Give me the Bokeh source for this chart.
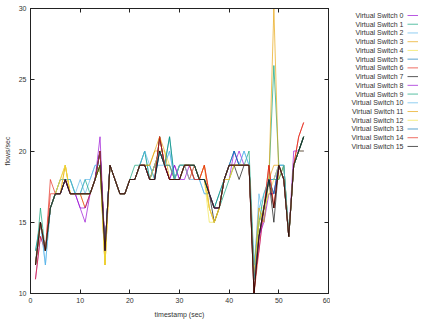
from bokeh.plotting import figure
from bokeh.layouts import row
from bokeh.models import ColumnDataSource, Range1d, LinearAxis, FixedTicker, CustomJSTickFormatter
from bokeh.core.properties import value
from bokeh.embed import file_html
from bokeh.resources import INLINE

timestamps = list(range(1, 56))

series_names = [f"Virtual Switch {i}" for i in range(16)]

series_colors = ["#9400d3", "#009e73", "#56b4e9", "#e69f00", "#f0e442", "#0072b2", "#e51e10", "#000000",
                 "#9400d3", "#009e73", "#56b4e9", "#e69f00", "#f0e442", "#0072b2", "#e51e10", "#000000"]

s0 = [11,14,13,16,17,17,18,17,17,16, 15,17,18,20,13,19,18,17,17,18, 18,19,19,18,19,20,19,18,19,18, 19,18,19,18,18,17,16,16,18,18, 20,19,19,19,11,13,16,18,18,19, 18,14,19,20,20]
s1 = [12,16,13,16,17,18,18,17,17,17, 17,17,18,19,13,19,18,17,17,18, 19,19,19,19,18,20,19,19,18,19, 19,19,18,18,18,17,16,16,17,18, 19,19,19,19,11,15,16,18,26,19, 19,14,19,20,21]
s2 = [13,15,12,16,17,18,18,18,17,18, 17,18,19,19,13,19,18,17,17,18, 18,19,20,18,19,19,19,20,18,19, 19,19,18,18,17,17,16,16,18,19, 19,19,20,19,11,17,15,18,18,19, 19,14,19,20,20]
s3 = [12,15,13,16,17,18,19,17,17,17, 17,17,18,19,12,19,18,17,17,18, 18,19,19,19,20,20,19,18,18,19, 19,18,19,18,18,16,15,16,18,18, 19,19,19,19,11,15,16,18,30,18, 19,14,19,20,21]
s4 = [12,15,13,16,17,17,19,17,17,17, 16,17,18,19,12,19,18,17,17,18, 18,19,19,18,19,20,20,19,18,18, 19,19,19,18,18,15,15,16,18,19, 19,19,19,19,11,16,16,17,17,19, 18,14,19,20,20]
s5 = [12,15,13,16,17,17,18,17,17,17, 17,17,18,20,13,19,18,17,17,18, 18,19,19,18,18,21,19,21,18,18, 19,19,19,18,18,17,16,17,18,19, 20,19,19,19,11,14,16,18,17,19, 18,14,19,20,21]
s6 = [11,14,13,18,17,17,18,17,17,17, 16,17,18,20,13,19,18,17,17,18, 18,19,19,18,18,21,19,18,18,18, 19,19,18,18,19,17,16,16,18,19, 19,19,19,19,10,13,16,19,16,19, 18,14,19,21,22]
s7 = [12,15,13,16,17,17,18,17,17,17, 17,17,18,20,13,19,18,17,17,18, 18,19,19,18,18,21,19,18,18,18, 19,19,19,18,18,17,15,16,18,19, 19,18,19,19,10,14,16,18,15,19, 18,14,19,20,21]
s8 = [12,15,13,16,17,17,18,17,17,16, 16,17,18,21,13,19,18,17,17,18, 18,19,19,18,19,20,19,18,19,18, 18,19,19,18,18,17,16,16,18,19, 19,20,19,19,11,14,15,17,17,19, 18,14,20,20,20]
s9 = [13,15,13,16,17,17,18,18,17,17, 18,17,18,19,13,19,18,17,17,18, 18,19,20,18,19,20,19,21,18,19, 19,19,19,18,18,17,16,17,18,19, 19,19,19,20,12,15,17,18,18,18, 19,14,19,20,21]
s10 = [12,15,12,16,17,17,18,18,17,17, 18,18,19,19,13,19,18,17,17,18, 18,19,20,19,18,20,19,20,18,19, 19,18,18,18,17,17,16,16,18,19, 19,19,20,19,12,16,17,18,18,19, 19,14,19,20,20]
s11 = [12,15,13,16,17,17,19,17,17,17, 17,17,18,19,12,19,18,17,17,18, 18,19,19,19,20,21,20,18,18,18, 19,19,19,18,19,16,15,16,18,19, 19,19,19,19,11,16,15,18,19,19, 18,14,19,20,21]
s12 = [12,15,13,16,17,18,19,17,17,17, 17,17,18,19,12,19,18,17,17,18, 18,19,19,18,19,20,19,19,18,18, 19,19,19,18,18,16,15,16,18,18, 19,19,19,19,11,15,16,17,18,19, 18,14,19,20,20]
s13 = [12,15,13,16,17,17,18,17,17,17, 17,17,18,20,13,19,18,17,17,18, 18,19,19,18,18,20,19,19,18,18, 19,19,19,18,18,17,16,16,18,19, 20,19,19,19,11,14,16,18,17,19, 18,14,19,20,21]
s14 = [12,15,13,17,17,17,18,17,17,17, 17,17,18,20,13,19,18,17,17,18, 18,19,19,18,18,21,19,18,18,18, 19,19,18,18,19,17,16,16,18,19, 19,19,19,19,10,14,16,19,16,19, 18,14,19,21,22]
s15 = [12,15,13,16,17,17,18,17,17,17, 17,17,18,19,13,19,18,17,17,18, 18,19,19,18,18,20,19,18,18,18, 19,19,19,18,18,17,16,16,18,19, 19,19,19,19,10,14,16,18,16,19, 18,14,19,20,21]

all_series = [s0, s1, s2, s3, s4, s5, s6, s7, s8, s9, s10, s11, s12, s13, s14, s15]

x_ticks = [0, 10, 20, 30, 40, 50, 60]
y_ticks = [10, 15, 20, 25, 30]

FONT = "Liberation Sans"
TXT = "#333333"

p = figure(frame_width=298, frame_height=285, x_range=Range1d(0, 60), y_range=Range1d(10, 30),
           output_backend="svg", toolbar_location=None,
           min_border_left=20, min_border_right=2, min_border_top=8, min_border_bottom=10)
p.grid.visible = False
p.outline_line_color = "#222222"
p.outline_line_width = 1
p.background_fill_color = "white"
p.border_fill_color = "white"

for vals, col in zip(all_series, series_colors):
    p.line(timestamps, vals, line_color=col, line_width=1, line_alpha=0.65)

for ax, ticks in ((p.xaxis[0], x_ticks), (p.yaxis[0], y_ticks)):
    ax.ticker = FixedTicker(ticks=ticks)
    ax.major_tick_in = 4
    ax.major_tick_out = 0
    ax.minor_tick_line_color = None
    ax.major_label_text_font = FONT
    ax.major_label_text_font_size = "7px"
    ax.major_label_text_color = TXT
    ax.axis_label_text_font = FONT
    ax.axis_label_text_font_size = "7px"
    ax.axis_label_text_font_style = "normal"
    ax.axis_label_text_color = TXT
    ax.axis_line_color = "#222222"
    ax.major_tick_line_color = "#222222"
    ax.major_label_standoff = 4
    ax.axis_label_standoff = 5

p.xaxis.axis_label = "timestamp (sec)"
p.yaxis.axis_label = "flows/sec"

blank = CustomJSTickFormatter(code="return ''")
top_ax = LinearAxis(ticker=FixedTicker(ticks=x_ticks), major_tick_in=4, major_tick_out=0,
                    minor_tick_line_color=None, formatter=blank, major_label_text_font_size="7px",
                    major_label_standoff=0, axis_line_color="#222222", major_tick_line_color="#222222")
right_ax = LinearAxis(ticker=FixedTicker(ticks=y_ticks), major_tick_in=4, major_tick_out=0,
                      minor_tick_line_color=None, formatter=blank, major_label_text_font_size="7px",
                      major_label_standoff=0, axis_line_color="#222222", major_tick_line_color="#222222")
p.add_layout(top_ax, "above")
p.add_layout(right_ax, "right")

# Legend panel (gnuplot style: label right-aligned, sample line to the right)
LW = 88
LH = 300
leg = figure(frame_width=LW, frame_height=LH, x_range=Range1d(0, LW), y_range=Range1d(LH, 0),
             output_backend="svg", toolbar_location=None,
             min_border=0, min_border_left=0, min_border_right=0, min_border_top=0, min_border_bottom=0)
leg.axis.visible = False
leg.grid.visible = False
leg.outline_line_color = None
leg.border_fill_color = "white"

row_y = [7 + 8.73 * i for i in range(len(series_names))]
lsrc = ColumnDataSource(dict(name=series_names, y=row_y, tx=[73] * 16, x0=[77] * 16, x1=[88] * 16,
                             color=series_colors))
leg.text(x="tx", y="y", text="name", source=lsrc, text_align="right", text_baseline="middle",
         text_font=value(FONT), text_font_size="7px", text_color=TXT)
leg.segment(x0="x0", y0="y", x1="x1", y1="y", source=lsrc, line_color="color", line_width=1, line_alpha=0.65)

layout = row(p, leg)
open("out.html", "w").write(file_html(layout, INLINE))
